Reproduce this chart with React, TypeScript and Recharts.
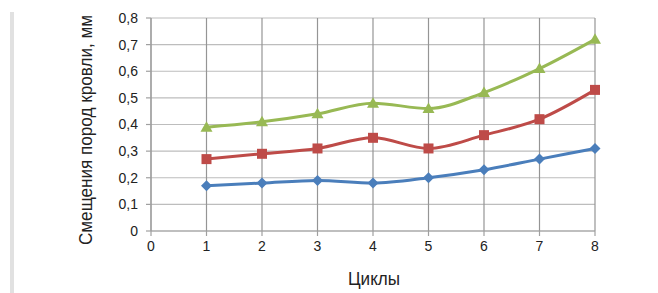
import { CartesianGrid, Line, LineChart, XAxis, YAxis } from "recharts";

const cycles = [1, 2, 3, 4, 5, 6, 7, 8];
const blueValues = [0.17, 0.18, 0.19, 0.18, 0.2, 0.23, 0.27, 0.31];
const redValues = [0.27, 0.29, 0.31, 0.35, 0.31, 0.36, 0.42, 0.53];
const greenValues = [0.39, 0.41, 0.44, 0.48, 0.46, 0.52, 0.61, 0.72];
const xTicks = [0, 1, 2, 3, 4, 5, 6, 7, 8];
const yTicks = [0, 0.1, 0.2, 0.3, 0.4, 0.5, 0.6, 0.7, 0.8];

const BLUE = "#4a7ebb";
const RED = "#be4b48";
const GREEN = "#98b954";
const FONT = "'Liberation Sans', Arial, sans-serif";

const data = cycles.map((c, i) => ({
  cycle: c,
  blue: blueValues[i],
  red: redValues[i],
  green: greenValues[i],
}));

function Diamond(props: any) {
  const { cx, cy, index } = props;
  if (cx == null || cy == null) return <g key={index} />;
  const r = 5.5;
  return (
    <path
      key={index}
      d={`M${cx},${cy - r}L${cx + r},${cy}L${cx},${cy + r}L${cx - r},${cy}Z`}
      fill={BLUE}
    />
  );
}

function Square(props: any) {
  const { cx, cy, index } = props;
  if (cx == null || cy == null) return <g key={index} />;
  const r = 5;
  return <rect key={index} x={cx - r} y={cy - r} width={2 * r} height={2 * r} fill={RED} />;
}

function Triangle(props: any) {
  const { cx, cy, index } = props;
  if (cx == null || cy == null) return <g key={index} />;
  return (
    <path
      key={index}
      d={`M${cx},${cy - 6}L${cx + 6},${cy + 4.5}L${cx - 6},${cy + 4.5}Z`}
      fill={GREEN}
    />
  );
}

const fmt = (v: number) => String(Math.round(v * 10) / 10).replace(".", ",");

export default function App() {
  return (
    <div style={{ position: "absolute", left: 0, top: 0, width: 658, height: 293, background: "#fff" }}>
      <div
        style={{ position: "absolute", left: 10, top: 12, width: 4, height: 281, background: "#e1e1e1" }}
      />
      <LineChart
        width={658}
        height={293}
        data={data}
        margin={{ top: 18, right: 63, bottom: 32, left: 0 }}
      >
        <CartesianGrid vertical={false} stroke="#bdbdbd" strokeWidth={1.2} />
        <CartesianGrid horizontal={false} stroke="#959595" strokeWidth={1.2} />
        <XAxis
          type="number"
          dataKey="cycle"
          domain={[0, 8]}
          ticks={xTicks}
          interval={0}
          height={30}
          stroke="#a0a0a0"
          strokeWidth={1.2}
          tickSize={5}
          tickMargin={5}
          tick={{ fill: "#222", fontSize: 14, fontFamily: FONT }}
        />
        <YAxis
          type="number"
          domain={[0, 0.8]}
          ticks={yTicks}
          interval={0}
          width={151}
          stroke="#a0a0a0"
          strokeWidth={1.2}
          tickSize={5}
          tickMargin={8}
          tickFormatter={fmt}
          tick={{ fill: "#222", fontSize: 14, fontFamily: FONT }}
        />
        <Line
          type="monotone"
          dataKey="blue"
          stroke={BLUE}
          strokeWidth={3}
          dot={Diamond}
          activeDot={false}
          isAnimationActive={false}
        />
        <Line
          type="monotone"
          dataKey="red"
          stroke={RED}
          strokeWidth={3}
          dot={Square}
          activeDot={false}
          isAnimationActive={false}
        />
        <Line
          type="monotone"
          dataKey="green"
          stroke={GREEN}
          strokeWidth={3}
          dot={Triangle}
          activeDot={false}
          isAnimationActive={false}
        />
      </LineChart>
      <svg
        width={658}
        height={293}
        style={{ position: "absolute", left: 0, top: 0, pointerEvents: "none" }}
      >
        <g transform="translate(86 130) rotate(-90)">
          <text
            x={0}
            y={0}
            textAnchor="middle"
            dominantBaseline="central"
            fontSize={18}
            fontFamily={FONT}
            textLength={230}
            lengthAdjust="spacingAndGlyphs"
            fill="#222"
          >
            Смещения пород кровли, мм
          </text>
        </g>
        <text
          x={374}
          y={278}
          textAnchor="middle"
          dominantBaseline="central"
          fontSize={19}
          fontFamily={FONT}
          textLength={52}
          lengthAdjust="spacingAndGlyphs"
          fill="#222"
        >
          Циклы
        </text>
      </svg>
    </div>
  );
}
